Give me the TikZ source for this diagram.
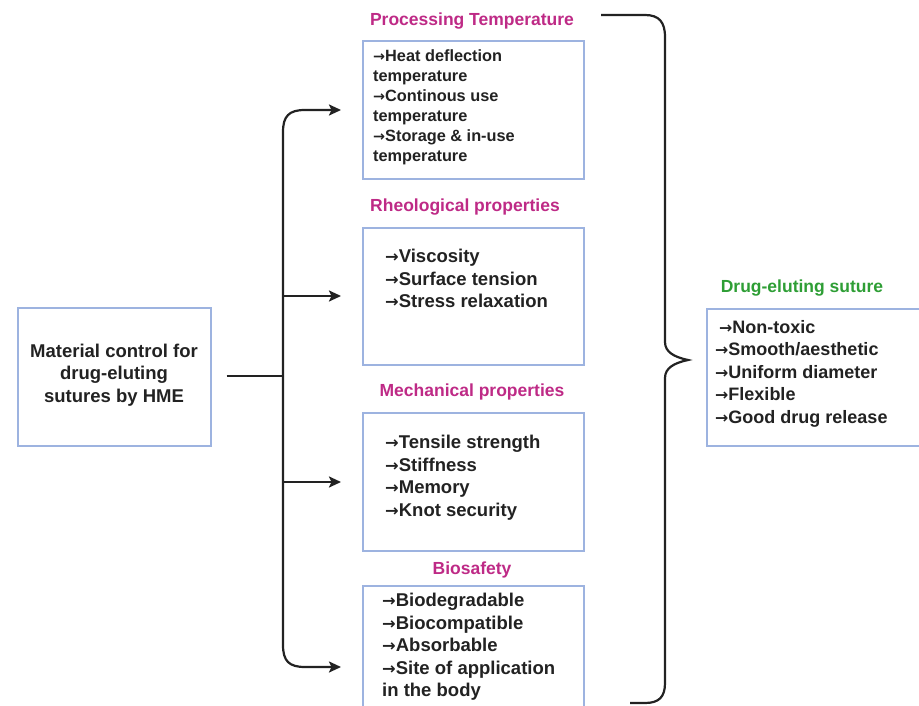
\documentclass[tikz,border=0pt]{standalone}
\usepackage{fontspec}
\setmainfont{Liberation Sans}
\newfontfamily\arrfont{DejaVu Sans}
\usetikzlibrary{arrows.meta}
\definecolor{boxblue}{HTML}{9DB3E0}
\definecolor{titlemag}{HTML}{BE2A86}
\definecolor{titlegreen}{HTML}{2E9E35}
\definecolor{ink}{HTML}{222222}
\newcommand{\arw}{{\arrfont\bfseries\scalebox{0.88}{→}}}
\tikzset{
  box/.style={draw=boxblue, line width=1.6pt, fill=white, anchor=north west, inner sep=0pt},
  ttl/.style={font=\bfseries\fontsize{17.5}{20}\selectfont, inner sep=0pt},
  lst/.style={font=\bfseries\fontsize{18.5}{22.5}\selectfont, align=left, anchor=north west, inner sep=0pt, text=ink},
  lstsmall/.style={font=\bfseries\fontsize{16.3}{20}\selectfont, align=left, anchor=north west, inner sep=0pt, text=ink},
  conn/.style={draw=ink, line width=2.2pt},
  arr/.style={conn, -{Stealth[length=12pt,width=11pt,inset=2.5pt]}}
}
\begin{document}
\begin{tikzpicture}[x=1pt,y=-1pt]
\useasboundingbox (0,0) rectangle (919,706);
% left box
\node[box, minimum width=193pt, minimum height=138pt] (src) at (17,307) {};
\node[font=\bfseries\fontsize{18.5}{22.5}\selectfont, align=center, text=ink, inner sep=0pt] (srct) at (114,375) {Material control for\\drug-eluting\\sutures by HME};
% boxes
\node[box, minimum width=221pt, minimum height=138pt] (b1) at (362,40) {};
\node[box, minimum width=221pt, minimum height=137pt] (b2) at (362,227) {};
\node[box, minimum width=221pt, minimum height=138pt] (b3) at (362,412) {};
\node[box, minimum width=221pt, minimum height=140pt] (b4) at (362,585) {};
\node[box, minimum width=230pt, minimum height=137pt] (b5) at (706,308) {};
% titles
\node[ttl, text=titlemag] (t1) at (472,21) {Processing Temperature};
\node[ttl, text=titlemag] (t2) at (465,207) {Rheological properties};
\node[ttl, text=titlemag] (t3) at (472,392) {Mechanical properties};
\node[ttl, text=titlemag] (t4) at (472,570) {Biosafety};
\node[ttl, text=titlegreen] (t5) at (802,288) {Drug-eluting suture};
% texts
\node[lstsmall] (l1) at (373,49) {\arw Heat deflection\\temperature\\\arw Continous use\\temperature\\\arw Storage \& in-use\\temperature};
\node[lst] (l2) at (385,249) {\arw Viscosity\\\arw Surface tension\\\arw Stress relaxation};
\node[lst] (l3) at (385,435) {\arw Tensile strength\\\arw Stiffness\\\arw Memory\\\arw Knot security};
\node[lst] (l4) at (382,593) {\arw Biodegradable\\\arw Biocompatible\\\arw Absorbable\\\arw Site of application\\in the body};
\node[font=\bfseries\fontsize{18}{22.5}\selectfont, align=left, anchor=north west, inner sep=0pt, text=ink] (l5) at (715,320) {\hspace{4pt}\arw Non-toxic\\\arw Smooth/aesthetic\\\arw Uniform diameter\\\arw Flexible\\\arw Good drug release};
% tree connectors
\coordinate (jn) at (283,376);
\coordinate (a1) at (341,110);
\coordinate (a2) at (341,296);
\coordinate (a3) at (341,482);
\coordinate (a4) at (341,667);
\draw[conn] ([xshift=15pt]src.east |- jn) -- (jn);
\draw[arr] (jn) -- (283,132) .. controls (283,116) and (289,110) .. (305,110) -- (a1);
\draw[arr] (jn) -- (283,645) .. controls (283,661) and (289,667) .. (305,667) -- (a4);
\draw[arr] (283,296) -- (a2);
\draw[arr] (283,482) -- (a3);
% brace
\coordinate (tip) at (688,360);
\draw[conn] (601,15) -- (645,15) .. controls (659,15) and (665,22) .. (665,37)
  -- (665,342) .. controls (665,352) and (674,357) .. (tip)
  .. controls (674,363) and (665,368) .. (665,378)
  -- (665,683) .. controls (665,697) and (659,703) .. (645,703) -- (630,703);
\end{tikzpicture}
\end{document}
